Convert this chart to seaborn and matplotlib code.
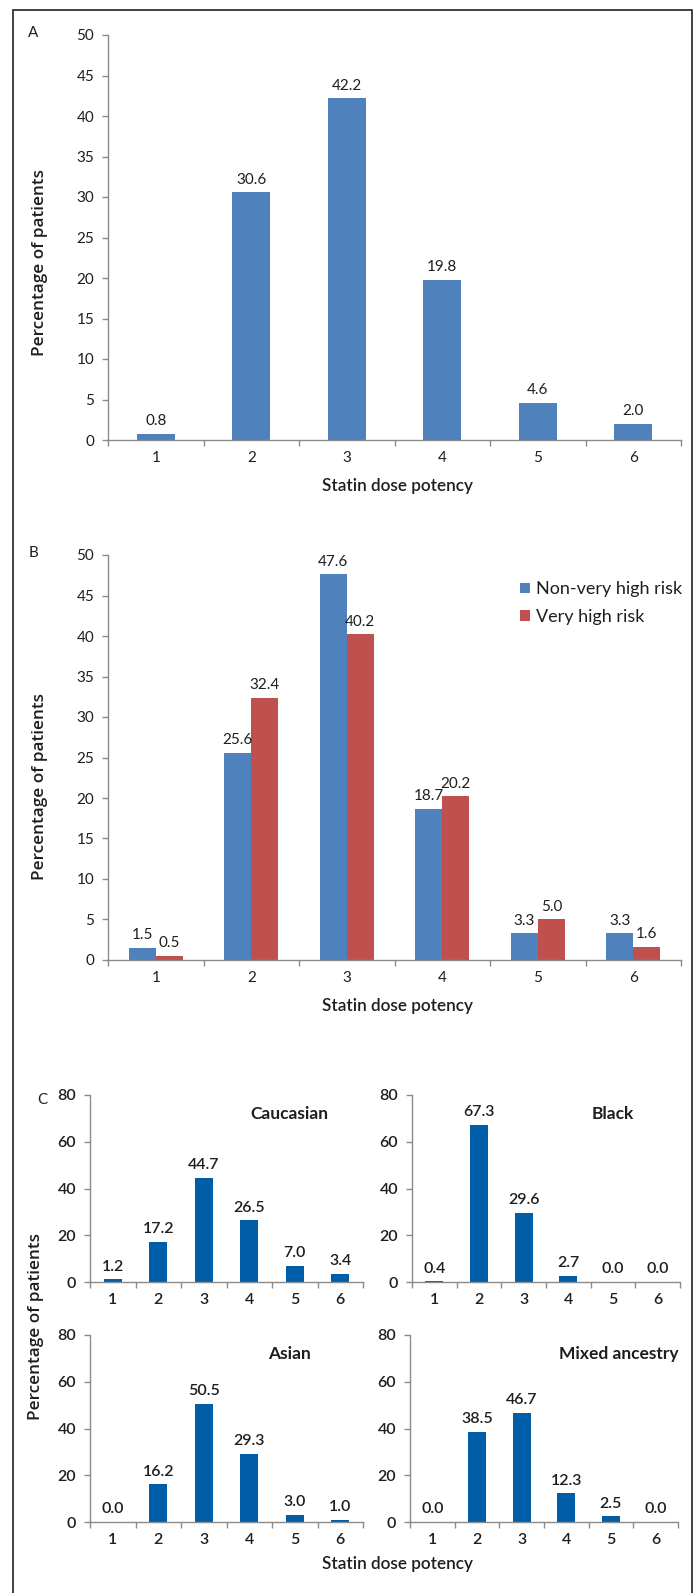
import numpy as np
import pandas as pd
import matplotlib
matplotlib.use('Agg')
import matplotlib.pyplot as plt
import seaborn as sns
from matplotlib.ticker import FixedLocator, MultipleLocator

# statin dose potency categories
potency = ['1', '2', '3', '4', '5', '6']

# A: all patients
all_patients = [0.8, 30.6, 42.2, 19.8, 4.6, 2.0]

# B: by cardiovascular risk
risk_groups = ['Non-very high risk', 'Very high risk']
non_very_high = [1.5, 25.6, 47.6, 18.7, 3.3, 3.3]
very_high = [0.5, 32.4, 40.2, 20.2, 5.0, 1.6]

# C: by ethnicity
ethnic_groups = ['Caucasian', 'Black', 'Asian', 'Mixed ancestry']
caucasian = [1.2, 17.2, 44.7, 26.5, 7.0, 3.4]
black = [0.4, 67.3, 29.6, 2.7, 0.0, 0.0]
asian = [0.0, 16.2, 50.5, 29.3, 3.0, 1.0]
mixed = [0.0, 38.5, 46.7, 12.3, 2.5, 0.0]

sns.set_theme(style='ticks')
plt.rcParams['font.family'] = ['Lato', 'DejaVu Sans']

BLUE = '#4F81BD'
RED = '#C0504D'
DARK_BLUE = '#005EA8'
AXIS = '#8A8A8A'
TXT = '#1E1E1E'

W, H = 695, 1593
fig = plt.figure(figsize=(W / 100, H / 100), dpi=100)


def box(left, top, right, bottom):
    # pixel box -> figure fraction
    return [left / W, 1 - bottom / H, (right - left) / W, (bottom - top) / H]


def style_axis(ax, ymax, ystep, fs=11, weight='normal'):
    ax.set_xlim(-0.5, 5.5)
    ax.set_ylim(0, ymax)
    ax.yaxis.set_major_locator(MultipleLocator(ystep))
    sns.despine(ax=ax)
    for s in ['left', 'bottom']:
        ax.spines[s].set_color(AXIS)
        ax.spines[s].set_linewidth(1.0)
    ax.xaxis.set_minor_locator(FixedLocator(np.arange(-0.5, 6, 1)))
    ax.tick_params(axis='x', which='major', length=0, pad=8, labelsize=fs, labelcolor=TXT)
    ax.tick_params(axis='x', which='minor', length=4, width=1, color=AXIS)
    ax.tick_params(axis='y', length=4, width=1, color=AXIS, pad=6, labelsize=fs, labelcolor=TXT)
    for lab in ax.get_xticklabels() + ax.get_yticklabels():
        lab.set_fontweight(weight)
    ax.set_xlabel('')
    ax.set_ylabel('')


def label_bars(ax, fs=11, weight='normal'):
    for c in ax.containers:
        ax.bar_label(c, fmt='%.1f', padding=4, fontsize=fs, color=TXT, fontweight=weight)


# ---- A
axA = fig.add_axes(box(108, 35, 681, 440))
sns.barplot(x=potency, y=all_patients, color=BLUE, saturation=1, width=0.4,
            errorbar=None, linewidth=0, ax=axA)
style_axis(axA, 50, 5)
label_bars(axA)

# ---- B
df_b = pd.DataFrame({
    'potency': potency * 2,
    'pct': non_very_high + very_high,
    'risk': [risk_groups[0]] * 6 + [risk_groups[1]] * 6,
})
axB = fig.add_axes(box(108, 555, 681, 960))
sns.barplot(data=df_b, x='potency', y='pct', hue='risk', palette=[BLUE, RED],
            saturation=1, width=0.57, errorbar=None, linewidth=0, ax=axB)
style_axis(axB, 50, 5)
label_bars(axB)
axB.legend(loc='upper left', bbox_to_anchor=(0.69, 0.975), frameon=False,
           handlelength=0.55, handleheight=0.55, handletextpad=0.35,
           labelspacing=0.65, fontsize=13, labelcolor=TXT)

# ---- C
c_boxes = [(90, 1095, 363, 1282), (412, 1095, 680, 1282),
           (90, 1335, 363, 1522), (410, 1335, 678, 1522)]
c_values = [caucasian, black, asian, mixed]
c_title_x = [0.73, 0.75, 0.73, 0.78]
for (l, t, r, b), vals, name, tx in zip(c_boxes, c_values, ethnic_groups, c_title_x):
    ax = fig.add_axes(box(l, t, r, b))
    sns.barplot(x=potency, y=vals, color=DARK_BLUE, saturation=1, width=0.4,
                errorbar=None, linewidth=0, ax=ax)
    style_axis(ax, 80, 20, fs=11.5, weight='semibold')
    label_bars(ax, fs=11.5, weight='semibold')
    ax.text(tx, 0.9, name, transform=ax.transAxes, ha='center', va='center',
            fontsize=12.5, fontweight='bold', color=TXT)

# figure texts
ylab_kw = dict(rotation=90, ha='center', va='center', fontsize=12.3,
               fontweight='semibold', color=TXT, family=['Open Sans', 'DejaVu Sans'])
fig.text(40 / W, 1 - 262 / H, 'Percentage of patients', **ylab_kw)
fig.text(40 / W, 1 - 786 / H, 'Percentage of patients', **ylab_kw)
fig.text(36 / W, 1 - 1327 / H, 'Percentage of patients', **ylab_kw)

xlab_kw = dict(ha='center', va='center', fontsize=12.3, fontweight='semibold', color=TXT)
fig.text(398 / W, 1 - 486 / H, 'Statin dose potency', **xlab_kw)
fig.text(398 / W, 1 - 1006 / H, 'Statin dose potency', **xlab_kw)
fig.text(397 / W, 1 - 1564 / H, 'Statin dose potency', **xlab_kw)

let_kw = dict(ha='center', va='center', fontsize=11, color=TXT)
fig.text(33 / W, 1 - 33 / H, 'A', **let_kw)
fig.text(33 / W, 1 - 553 / H, 'B', **let_kw)
fig.text(42 / W, 1 - 1100 / H, 'C', **let_kw)

# outer frame
fig.add_artist(plt.Rectangle((13 / W, -0.02), (692 - 13) / W, 1.02 - 10 / H,
                             fill=False, lw=1.2, edgecolor='#222222',
                             transform=fig.transFigure))

fig.savefig('out.png', dpi=100)
